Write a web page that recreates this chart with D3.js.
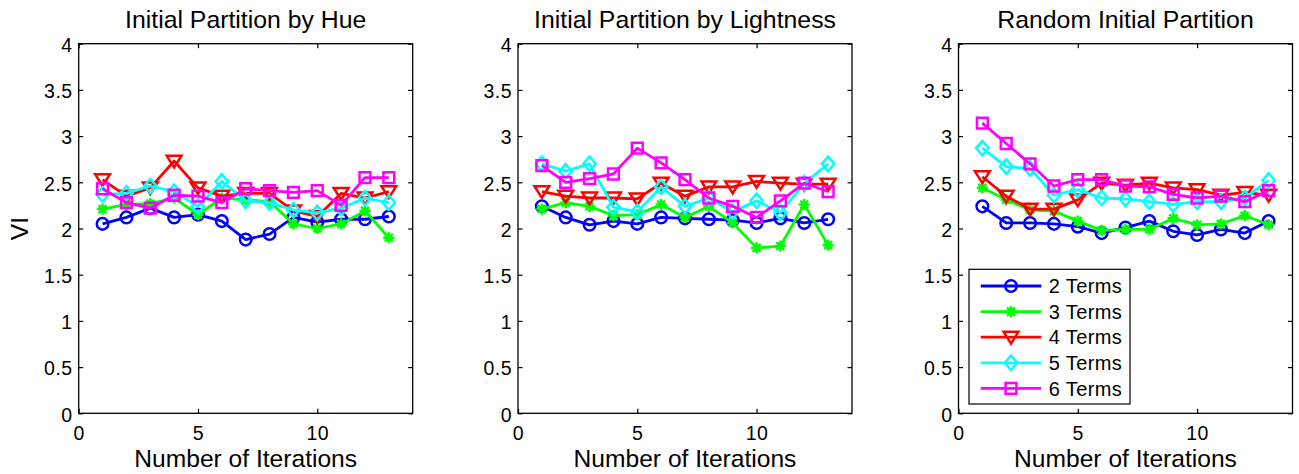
<!DOCTYPE html>
<html>
<head>
<meta charset="utf-8">
<script src="https://cdn.jsdelivr.net/npm/d3@7"></script>
<style>
	body { margin: 0; background: #fff; }
	svg { display: block; font-family: "Liberation Sans", Arial, sans-serif; }
	.tick line { stroke: #000; stroke-width: 1.2; }
	.tick text { fill: #000; font-size: 19.5px; letter-spacing: 0.5px; }
</style>
</head>
<body>
<div id="graphic"></div>
<script>
const iterations = [1, 2, 3, 4, 5, 6, 7, 8, 9, 10, 11, 12, 13];
const seriesNames = ['2 Terms', '3 Terms', '4 Terms', '5 Terms', '6 Terms'];
const panelTitles = ['Initial Partition by Hue', 'Initial Partition by Lightness', 'Random Initial Partition'];
const xTicks = [0, 5, 10];
const yTicks = [0, 0.5, 1, 1.5, 2, 2.5, 3, 3.5, 4];

// VI per iteration, one array per number of terms
const hue2 = [2.05, 2.12, 2.22, 2.12, 2.15, 2.08, 1.88, 1.94, 2.12, 2.07, 2.10, 2.10, 2.13];
const hue3 = [2.21, 2.26, 2.27, 2.33, 2.15, 2.33, 2.31, 2.29, 2.05, 2.00, 2.05, 2.19, 1.90];
const hue4 = [2.53, 2.35, 2.44, 2.73, 2.44, 2.35, 2.38, 2.38, 2.19, 2.13, 2.38, 2.33, 2.40];
const hue5 = [2.37, 2.38, 2.46, 2.40, 2.24, 2.51, 2.30, 2.28, 2.20, 2.17, 2.22, 2.33, 2.28];
const hue6 = [2.43, 2.28, 2.22, 2.36, 2.35, 2.28, 2.43, 2.41, 2.39, 2.41, 2.25, 2.55, 2.55];

const light2 = [2.24, 2.12, 2.04, 2.08, 2.05, 2.12, 2.11, 2.10, 2.09, 2.06, 2.11, 2.06, 2.10];
const light3 = [2.21, 2.28, 2.24, 2.14, 2.15, 2.26, 2.12, 2.24, 2.06, 1.79, 1.81, 2.26, 1.82];
const light4 = [2.40, 2.35, 2.33, 2.33, 2.32, 2.49, 2.35, 2.45, 2.45, 2.51, 2.49, 2.48, 2.48];
const light5 = [2.70, 2.62, 2.70, 2.23, 2.18, 2.45, 2.24, 2.33, 2.18, 2.30, 2.17, 2.49, 2.70];
const light6 = [2.68, 2.50, 2.54, 2.59, 2.87, 2.71, 2.53, 2.33, 2.24, 2.12, 2.30, 2.49, 2.40];

const rand2 = [2.24, 2.06, 2.06, 2.05, 2.02, 1.95, 2.01, 2.08, 1.97, 1.93, 1.99, 1.95, 2.08];
const rand3 = [2.44, 2.31, 2.20, 2.19, 2.08, 1.98, 1.99, 1.99, 2.11, 2.04, 2.05, 2.14, 2.04];
const rand4 = [2.56, 2.35, 2.21, 2.21, 2.31, 2.49, 2.47, 2.49, 2.44, 2.42, 2.36, 2.39, 2.36];
const rand5 = [2.87, 2.67, 2.65, 2.36, 2.42, 2.33, 2.32, 2.29, 2.26, 2.29, 2.29, 2.33, 2.52];
const rand6 = [3.14, 2.92, 2.70, 2.46, 2.53, 2.53, 2.46, 2.45, 2.37, 2.33, 2.35, 2.29, 2.41];

const panelData = [
	[hue2, hue3, hue4, hue5, hue6],
	[light2, light3, light4, light5, light6],
	[rand2, rand3, rand4, rand5, rand6]
];

const colours = ['#0000ff', '#00ff00', '#ff0000', '#00ffff', '#ff00ff'];
const markers = ['circle', 'star', 'triDown', 'diamond', 'square'];

const width = 1299, height = 474;
const panelLeft = [78.7, 518, 958.5];
const panelWidth = 334, plotTop = 43.7, plotHeight = 369.6;

const svg = d3.select('#graphic').append('svg')
	.attr('width', width)
	.attr('height', height);

// marker path around 0,0
function markerPath(type) {
	const p = d3.path();
	if (type === 'circle') {
		p.arc(0, 0, 5.8, 0, 2 * Math.PI);
	} else if (type === 'square') {
		p.rect(-5.4, -5.4, 10.8, 10.8);
	} else if (type === 'diamond') {
		p.moveTo(0, -7.2); p.lineTo(6.2, 0); p.lineTo(0, 7.2); p.lineTo(-6.2, 0); p.closePath();
	} else if (type === 'triDown') {
		p.moveTo(-7.4, -5.4); p.lineTo(7.4, -5.4); p.lineTo(0, 6.4); p.closePath();
	} else if (type === 'star') {
		const r = 5.6, d = r * Math.SQRT1_2;
		p.moveTo(-r, 0); p.lineTo(r, 0);
		p.moveTo(0, -r); p.lineTo(0, r);
		p.moveTo(-d, -d); p.lineTo(d, d);
		p.moveTo(-d, d); p.lineTo(d, -d);
	}
	return p.toString();
}

function drawMarker(g, type, colour, cx, cy) {
	g.append('path')
		.attr('d', markerPath(type))
		.attr('transform', 'translate(' + cx + ',' + cy + ')')
		.attr('fill', type === 'star' ? colour : 'none')
		.attr('stroke', colour)
		.attr('stroke-width', 2.5)
		.attr('stroke-linejoin', 'miter');
}

panelData.forEach(function (series, p) {
	const g = svg.append('g').attr('transform', 'translate(' + panelLeft[p] + ',' + plotTop + ')');

	const x = d3.scaleLinear().domain([0, 14]).range([0, panelWidth]);
	const y = d3.scaleLinear().domain([0, 4]).range([plotHeight, 0]);

	// axes with inward ticks, MATLAB style
	g.append('g')
		.attr('class', 'y axis')
		.call(d3.axisLeft(y).tickValues(yTicks).tickSizeInner(-4.5).tickSizeOuter(0).tickPadding(6).tickFormat(d3.format('')))
		.call(a => a.select('.domain').remove())
		.selectAll('text').attr('dy', '0.4em');

	g.append('g')
		.attr('transform', 'translate(' + panelWidth + ',0)')
		.call(d3.axisRight(y).tickValues(yTicks).tickSizeInner(-4.5).tickSizeOuter(0).tickFormat(''))
		.call(a => a.select('.domain').remove());

	g.append('g')
		.attr('class', 'x axis')
		.attr('transform', 'translate(0,' + plotHeight + ')')
		.call(d3.axisBottom(x).tickValues(xTicks).tickSizeInner(-4.5).tickSizeOuter(0).tickPadding(12.8))
		.call(a => a.select('.domain').remove());

	g.append('g')
		.call(d3.axisTop(x).tickValues(xTicks).tickSizeInner(-4.5).tickSizeOuter(0).tickFormat(''))
		.call(a => a.select('.domain').remove());

	g.append('rect')
		.attr('width', panelWidth)
		.attr('height', plotHeight)
		.attr('fill', 'none')
		.attr('stroke', '#000')
		.attr('stroke-width', 1.3);

	const line = d3.line()
		.x((d, i) => x(iterations[i]))
		.y(d => y(d));

	series.forEach(function (vals, s) {
		const sg = g.append('g');
		sg.append('path')
			.attr('d', line(vals))
			.attr('fill', 'none')
			.attr('stroke', colours[s])
			.attr('stroke-width', 2.8)
			.attr('stroke-linejoin', 'round');
		vals.forEach(function (v, i) {
			drawMarker(sg, markers[s], colours[s], x(iterations[i]), y(v));
		});
	});

	// title
	svg.append('text')
		.attr('x', panelLeft[p] + panelWidth / 2)
		.attr('y', 28.3)
		.attr('text-anchor', 'middle')
		.style('font-size', '24.8px')
		.text(panelTitles[p]);

	// x label
	svg.append('text')
		.attr('x', panelLeft[p] + panelWidth / 2)
		.attr('y', 467.3)
		.attr('text-anchor', 'middle')
		.style('font-size', '24.6px')
		.text('Number of Iterations');

	// legend in the last panel
	if (p === 2) {
		const lg = svg.append('g');
		lg.append('rect')
			.attr('x', 969).attr('y', 269.3)
			.attr('width', 161).attr('height', 134.7)
			.attr('fill', '#fff')
			.attr('stroke', '#000')
			.attr('stroke-width', 1.2);
		seriesNames.forEach(function (name, s) {
			const ly = 286 + s * 25.6;
			lg.append('line')
				.attr('x1', 980.7).attr('x2', 1041.3)
				.attr('y1', ly).attr('y2', ly)
				.attr('stroke', colours[s])
				.attr('stroke-width', 2.8);
			drawMarker(lg, markers[s], colours[s], 1011, ly);
			lg.append('text')
				.attr('x', 1048.7).attr('y', ly)
				.attr('dy', '0.36em')
				.style('font-size', '20px')
				.style('letter-spacing', '0.4px')
				.text(name);
		});
	}
});

// y label
svg.append('text')
	.attr('transform', 'translate(28,' + (plotTop + plotHeight / 2) + ') rotate(-90)')
	.attr('text-anchor', 'middle')
	.style('font-size', '24.6px')
	.text('VI');
</script>
</body>
</html>
